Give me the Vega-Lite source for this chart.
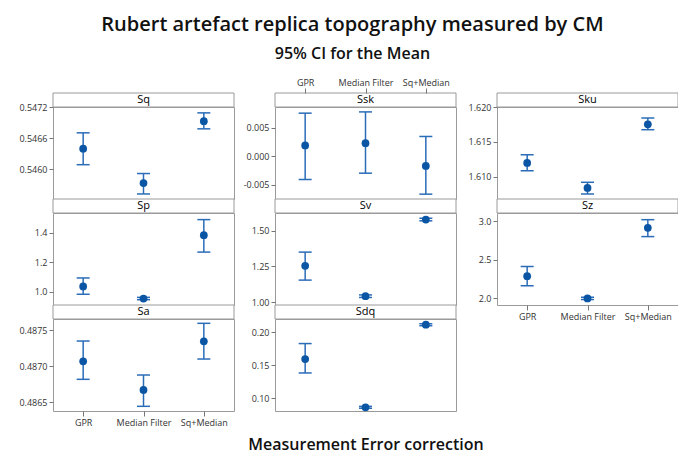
{
  "$schema": "https://vega.github.io/schema/vega-lite/v6.json",
  "padding": {"left": 18, "top": 14, "right": 0, "bottom": 0},
  "background": "white",
  "title": {
    "text": "Rubert artefact replica topography measured by CM",
    "subtitle": "95% CI for the Mean",
    "anchor": "middle",
    "dx": 4,
    "font": "Open Sans",
    "fontSize": 20,
    "fontWeight": 600,
    "color": "#111111",
    "subtitleFont": "Open Sans",
    "subtitleFontSize": 16,
    "subtitleFontWeight": 600,
    "subtitleColor": "#111111",
    "subtitlePadding": 11,
    "offset": 16
  },
  "datasets": {
    "ci": [
      {"param": "Sq", "corr": "GPR", "mean": 0.546397, "lo": 0.54609, "hi": 0.546703},
      {"param": "Sq", "corr": "Median Filter", "mean": 0.545737, "lo": 0.545527, "hi": 0.54592},
      {"param": "Sq", "corr": "Sq+Median", "mean": 0.546926, "lo": 0.54678, "hi": 0.547087},
      {"param": "Sp", "corr": "GPR", "mean": 1.035, "lo": 0.982, "hi": 1.093},
      {"param": "Sp", "corr": "Median Filter", "mean": 0.953, "lo": 0.945, "hi": 0.961},
      {"param": "Sp", "corr": "Sq+Median", "mean": 1.384, "lo": 1.269, "hi": 1.49},
      {"param": "Sa", "corr": "GPR", "mean": 0.487065, "lo": 0.486815, "hi": 0.487347},
      {"param": "Sa", "corr": "Median Filter", "mean": 0.486667, "lo": 0.48644, "hi": 0.486875},
      {"param": "Sa", "corr": "Sq+Median", "mean": 0.487343, "lo": 0.487097, "hi": 0.487593},
      {"param": "Ssk", "corr": "GPR", "mean": 0.00193, "lo": -0.00404, "hi": 0.0076},
      {"param": "Ssk", "corr": "Median Filter", "mean": 0.00233, "lo": -0.00293, "hi": 0.00782},
      {"param": "Ssk", "corr": "Sq+Median", "mean": -0.00165, "lo": -0.00661, "hi": 0.00351},
      {"param": "Sv", "corr": "GPR", "mean": 1.255, "lo": 1.154, "hi": 1.351},
      {"param": "Sv", "corr": "Median Filter", "mean": 1.041, "lo": 1.032, "hi": 1.05},
      {"param": "Sv", "corr": "Sq+Median", "mean": 1.58, "lo": 1.571, "hi": 1.589},
      {"param": "Sdq", "corr": "GPR", "mean": 0.1592, "lo": 0.1382, "hi": 0.1827},
      {"param": "Sdq", "corr": "Median Filter", "mean": 0.0862, "lo": 0.0848, "hi": 0.0876},
      {"param": "Sdq", "corr": "Sq+Median", "mean": 0.2112, "lo": 0.2097, "hi": 0.2127},
      {"param": "Sku", "corr": "GPR", "mean": 1.61197, "lo": 1.61086, "hi": 1.61313},
      {"param": "Sku", "corr": "Median Filter", "mean": 1.60837, "lo": 1.60751, "hi": 1.60919},
      {"param": "Sku", "corr": "Sq+Median", "mean": 1.61751, "lo": 1.61674, "hi": 1.61842},
      {"param": "Sz", "corr": "GPR", "mean": 2.285, "lo": 2.159, "hi": 2.41},
      {"param": "Sz", "corr": "Median Filter", "mean": 1.996, "lo": 1.981, "hi": 2.011},
      {"param": "Sz", "corr": "Sq+Median", "mean": 2.914, "lo": 2.8, "hi": 3.02}
    ],
    "panels": [
      {"param": "Sq"}, {"param": "Sp"}, {"param": "Sa"},
      {"param": "Ssk"}, {"param": "Sv"}, {"param": "Sdq"},
      {"param": "Sku"}, {"param": "Sz"}
    ]
  },
  "columns": 3,
  "spacing": {"row": 0, "column": 41},
  "bounds": "flush",
  "align": "each",
  "concat": [
    {"width": 181, "height": 14, "data": {"name": "panels"}, "transform": [{"filter": "datum.param == 'Sq'"}], "layer": [{"mark": {"type": "rect", "fill": "white", "stroke": "#9a9a9a", "strokeWidth": 1}, "encoding": {}}, {"mark": {"type": "text", "font": "Open Sans", "fontSize": 11, "color": "#000000"}, "encoding": {"text": {"field": "param", "type": "nominal"}}}]},
    {"width": 181, "height": 14, "data": {"name": "panels"}, "transform": [{"filter": "datum.param == 'Ssk'"}], "layer": [{"mark": {"type": "rect", "fill": "white", "stroke": "#9a9a9a", "strokeWidth": 1}, "encoding": {}}, {"mark": {"type": "text", "font": "Open Sans", "fontSize": 11, "color": "#000000"}, "encoding": {"text": {"field": "param", "type": "nominal"}}}]},
    {"width": 181, "height": 14, "data": {"name": "panels"}, "transform": [{"filter": "datum.param == 'Sku'"}], "layer": [{"mark": {"type": "rect", "fill": "white", "stroke": "#9a9a9a", "strokeWidth": 1}, "encoding": {}}, {"mark": {"type": "text", "font": "Open Sans", "fontSize": 11, "color": "#000000"}, "encoding": {"text": {"field": "param", "type": "nominal"}}}]},
    {
      "width": 181, "height": 92, "data": {"name": "ci"}, "transform": [{"filter": "datum.param == 'Sq'"}],
      "encoding": {"x": {"field": "corr", "type": "nominal", "scale": {"type": "point", "domain": ["GPR", "Median Filter", "Sq+Median"], "padding": 0.5}, "axis": null}},
      "layer": [
        {"mark": {"type": "rule", "color": "#2b6cb8", "strokeWidth": 1.5}, "encoding": {"y": {"field": "lo", "type": "quantitative", "scale": {"domain": [0.54543, 0.5472], "nice": false, "zero": false}, "axis": {"values": [0.546, 0.5466, 0.5472], "format": ".4f", "title": null}}, "y2": {"field": "hi"}}},
        {"mark": {"type": "tick", "color": "#2b6cb8", "size": 13, "thickness": 1.5, "opacity": 1}, "encoding": {"y": {"field": "lo", "type": "quantitative", "title": null}}},
        {"mark": {"type": "tick", "color": "#2b6cb8", "size": 13, "thickness": 1.5, "opacity": 1}, "encoding": {"y": {"field": "hi", "type": "quantitative", "title": null}}},
        {"mark": {"type": "point", "filled": true, "size": 60, "color": "#0b56a4", "opacity": 1}, "encoding": {"y": {"field": "mean", "type": "quantitative", "title": null}}}
      ]
    },
    {
      "width": 181, "height": 92, "data": {"name": "ci"}, "transform": [{"filter": "datum.param == 'Ssk'"}],
      "encoding": {"x": {"field": "corr", "type": "nominal", "scale": {"type": "point", "domain": ["GPR", "Median Filter", "Sq+Median"], "padding": 0.5}, "axis": {"orient": "top", "offset": 14, "title": null, "labelAngle": 0, "tickSize": 5, "labelPadding": 1}}},
      "layer": [
        {"mark": {"type": "rule", "color": "#2b6cb8", "strokeWidth": 1.5}, "encoding": {"y": {"field": "lo", "type": "quantitative", "scale": {"domain": [-0.00746, 0.00868], "nice": false, "zero": false}, "axis": {"values": [-0.005, 0, 0.005], "format": ".3f", "labelExpr": "replace(datum.label, '\u2212', '-')", "title": null}}, "y2": {"field": "hi"}}},
        {"mark": {"type": "tick", "color": "#2b6cb8", "size": 13, "thickness": 1.5, "opacity": 1}, "encoding": {"y": {"field": "lo", "type": "quantitative", "title": null}}},
        {"mark": {"type": "tick", "color": "#2b6cb8", "size": 13, "thickness": 1.5, "opacity": 1}, "encoding": {"y": {"field": "hi", "type": "quantitative", "title": null}}},
        {"mark": {"type": "point", "filled": true, "size": 60, "color": "#0b56a4", "opacity": 1}, "encoding": {"y": {"field": "mean", "type": "quantitative", "title": null}}}
      ]
    },
    {
      "width": 181, "height": 92, "data": {"name": "ci"}, "transform": [{"filter": "datum.param == 'Sku'"}],
      "encoding": {"x": {"field": "corr", "type": "nominal", "scale": {"type": "point", "domain": ["GPR", "Median Filter", "Sq+Median"], "padding": 0.5}, "axis": null}},
      "layer": [
        {"mark": {"type": "rule", "color": "#2b6cb8", "strokeWidth": 1.5}, "encoding": {"y": {"field": "lo", "type": "quantitative", "scale": {"domain": [1.60679, 1.62], "nice": false, "zero": false}, "axis": {"values": [1.61, 1.615, 1.62], "format": ".3f", "title": null}}, "y2": {"field": "hi"}}},
        {"mark": {"type": "tick", "color": "#2b6cb8", "size": 13, "thickness": 1.5, "opacity": 1}, "encoding": {"y": {"field": "lo", "type": "quantitative", "title": null}}},
        {"mark": {"type": "tick", "color": "#2b6cb8", "size": 13, "thickness": 1.5, "opacity": 1}, "encoding": {"y": {"field": "hi", "type": "quantitative", "title": null}}},
        {"mark": {"type": "point", "filled": true, "size": 60, "color": "#0b56a4", "opacity": 1}, "encoding": {"y": {"field": "mean", "type": "quantitative", "title": null}}}
      ]
    },
    {"width": 181, "height": 14, "data": {"name": "panels"}, "transform": [{"filter": "datum.param == 'Sp'"}], "layer": [{"mark": {"type": "rect", "fill": "white", "stroke": "#9a9a9a", "strokeWidth": 1}, "encoding": {}}, {"mark": {"type": "text", "font": "Open Sans", "fontSize": 11, "color": "#000000"}, "encoding": {"text": {"field": "param", "type": "nominal"}}}]},
    {"width": 181, "height": 14, "data": {"name": "panels"}, "transform": [{"filter": "datum.param == 'Sv'"}], "layer": [{"mark": {"type": "rect", "fill": "white", "stroke": "#9a9a9a", "strokeWidth": 1}, "encoding": {}}, {"mark": {"type": "text", "font": "Open Sans", "fontSize": 11, "color": "#000000"}, "encoding": {"text": {"field": "param", "type": "nominal"}}}]},
    {"width": 181, "height": 14, "data": {"name": "panels"}, "transform": [{"filter": "datum.param == 'Sz'"}], "layer": [{"mark": {"type": "rect", "fill": "white", "stroke": "#9a9a9a", "strokeWidth": 1}, "encoding": {}}, {"mark": {"type": "text", "font": "Open Sans", "fontSize": 11, "color": "#000000"}, "encoding": {"text": {"field": "param", "type": "nominal"}}}]},
    {
      "width": 181, "height": 92, "data": {"name": "ci"}, "transform": [{"filter": "datum.param == 'Sp'"}],
      "encoding": {"x": {"field": "corr", "type": "nominal", "scale": {"type": "point", "domain": ["GPR", "Median Filter", "Sq+Median"], "padding": 0.5}, "axis": null}},
      "layer": [
        {"mark": {"type": "rule", "color": "#2b6cb8", "strokeWidth": 1.5}, "encoding": {"y": {"field": "lo", "type": "quantitative", "scale": {"domain": [0.909, 1.535], "nice": false, "zero": false}, "axis": {"values": [1.0, 1.2, 1.4], "format": ".1f", "title": null}}, "y2": {"field": "hi"}}},
        {"mark": {"type": "tick", "color": "#2b6cb8", "size": 13, "thickness": 1.5, "opacity": 1}, "encoding": {"y": {"field": "lo", "type": "quantitative", "title": null}}},
        {"mark": {"type": "tick", "color": "#2b6cb8", "size": 13, "thickness": 1.5, "opacity": 1}, "encoding": {"y": {"field": "hi", "type": "quantitative", "title": null}}},
        {"mark": {"type": "point", "filled": true, "size": 60, "color": "#0b56a4", "opacity": 1}, "encoding": {"y": {"field": "mean", "type": "quantitative", "title": null}}}
      ]
    },
    {
      "width": 181, "height": 92, "data": {"name": "ci"}, "transform": [{"filter": "datum.param == 'Sv'"}],
      "encoding": {"x": {"field": "corr", "type": "nominal", "scale": {"type": "point", "domain": ["GPR", "Median Filter", "Sq+Median"], "padding": 0.5}, "axis": null}},
      "layer": [
        {"mark": {"type": "rule", "color": "#2b6cb8", "strokeWidth": 1.5}, "encoding": {"y": {"field": "lo", "type": "quantitative", "scale": {"domain": [0.979, 1.626], "nice": false, "zero": false}, "axis": {"values": [1.0, 1.25, 1.5], "format": ".2f", "title": null}}, "y2": {"field": "hi"}}},
        {"mark": {"type": "tick", "color": "#2b6cb8", "size": 13, "thickness": 1.5, "opacity": 1}, "encoding": {"y": {"field": "lo", "type": "quantitative", "title": null}}},
        {"mark": {"type": "tick", "color": "#2b6cb8", "size": 13, "thickness": 1.5, "opacity": 1}, "encoding": {"y": {"field": "hi", "type": "quantitative", "title": null}}},
        {"mark": {"type": "point", "filled": true, "size": 60, "color": "#0b56a4", "opacity": 1}, "encoding": {"y": {"field": "mean", "type": "quantitative", "title": null}}}
      ]
    },
    {
      "width": 181, "height": 92, "data": {"name": "ci"}, "transform": [{"filter": "datum.param == 'Sz'"}],
      "encoding": {"x": {"field": "corr", "type": "nominal", "scale": {"type": "point", "domain": ["GPR", "Median Filter", "Sq+Median"], "padding": 0.5}, "axis": {"orient": "bottom", "title": null, "labelAngle": 0, "tickSize": 5, "labelPadding": 2}}},
      "layer": [
        {"mark": {"type": "rule", "color": "#2b6cb8", "strokeWidth": 1.5}, "encoding": {"y": {"field": "lo", "type": "quantitative", "scale": {"domain": [1.91, 3.107], "nice": false, "zero": false}, "axis": {"values": [2.0, 2.5, 3.0], "format": ".1f", "title": null}}, "y2": {"field": "hi"}}},
        {"mark": {"type": "tick", "color": "#2b6cb8", "size": 13, "thickness": 1.5, "opacity": 1}, "encoding": {"y": {"field": "lo", "type": "quantitative", "title": null}}},
        {"mark": {"type": "tick", "color": "#2b6cb8", "size": 13, "thickness": 1.5, "opacity": 1}, "encoding": {"y": {"field": "hi", "type": "quantitative", "title": null}}},
        {"mark": {"type": "point", "filled": true, "size": 60, "color": "#0b56a4", "opacity": 1}, "encoding": {"y": {"field": "mean", "type": "quantitative", "title": null}}}
      ]
    },
    {"width": 181, "height": 14, "data": {"name": "panels"}, "transform": [{"filter": "datum.param == 'Sa'"}], "layer": [{"mark": {"type": "rect", "fill": "white", "stroke": "#9a9a9a", "strokeWidth": 1}, "encoding": {}}, {"mark": {"type": "text", "font": "Open Sans", "fontSize": 11, "color": "#000000"}, "encoding": {"text": {"field": "param", "type": "nominal"}}}]},
    {"width": 181, "height": 14, "data": {"name": "panels"}, "transform": [{"filter": "datum.param == 'Sdq'"}], "layer": [{"mark": {"type": "rect", "fill": "white", "stroke": "#9a9a9a", "strokeWidth": 1}, "encoding": {}}, {"mark": {"type": "text", "font": "Open Sans", "fontSize": 11, "color": "#000000"}, "encoding": {"text": {"field": "param", "type": "nominal"}}}]},
    {"width": 181, "height": 14, "view": {"stroke": null}, "data": {"name": "panels"}, "transform": [{"filter": "datum.param == 'none'"}], "mark": {"type": "text"}, "encoding": {"text": {"field": "param", "type": "nominal"}}},
    {
      "width": 181, "height": 92, "data": {"name": "ci"}, "transform": [{"filter": "datum.param == 'Sa'"}],
      "encoding": {"x": {"field": "corr", "type": "nominal", "scale": {"type": "point", "domain": ["GPR", "Median Filter", "Sq+Median"], "padding": 0.5}, "axis": {"orient": "bottom", "title": null, "labelAngle": 0, "tickSize": 5, "labelPadding": 2}}},
      "layer": [
        {"mark": {"type": "rule", "color": "#2b6cb8", "strokeWidth": 1.5}, "encoding": {"y": {"field": "lo", "type": "quantitative", "scale": {"domain": [0.486375, 0.487653], "nice": false, "zero": false}, "axis": {"values": [0.4865, 0.487, 0.4875], "format": ".4f", "title": null}}, "y2": {"field": "hi"}}},
        {"mark": {"type": "tick", "color": "#2b6cb8", "size": 13, "thickness": 1.5, "opacity": 1}, "encoding": {"y": {"field": "lo", "type": "quantitative", "title": null}}},
        {"mark": {"type": "tick", "color": "#2b6cb8", "size": 13, "thickness": 1.5, "opacity": 1}, "encoding": {"y": {"field": "hi", "type": "quantitative", "title": null}}},
        {"mark": {"type": "point", "filled": true, "size": 60, "color": "#0b56a4", "opacity": 1}, "encoding": {"y": {"field": "mean", "type": "quantitative", "title": null}}}
      ]
    },
    {
      "width": 181, "height": 92, "data": {"name": "ci"}, "transform": [{"filter": "datum.param == 'Sdq'"}],
      "encoding": {"x": {"field": "corr", "type": "nominal", "scale": {"type": "point", "domain": ["GPR", "Median Filter", "Sq+Median"], "padding": 0.5}, "axis": {"orient": "bottom", "labels": false, "ticks": false, "domain": false, "title": "Measurement Error correction", "titleFont": "Open Sans", "titleFontSize": 16, "titleFontWeight": 600, "titleColor": "#111111", "titlePadding": 25}}},
      "layer": [
        {"mark": {"type": "rule", "color": "#2b6cb8", "strokeWidth": 1.5}, "encoding": {"y": {"field": "lo", "type": "quantitative", "scale": {"domain": [0.0806, 0.2199], "nice": false, "zero": false}, "axis": {"values": [0.1, 0.15, 0.2], "format": ".2f", "title": null}}, "y2": {"field": "hi"}}},
        {"mark": {"type": "tick", "color": "#2b6cb8", "size": 13, "thickness": 1.5, "opacity": 1}, "encoding": {"y": {"field": "lo", "type": "quantitative", "title": null}}},
        {"mark": {"type": "tick", "color": "#2b6cb8", "size": 13, "thickness": 1.5, "opacity": 1}, "encoding": {"y": {"field": "hi", "type": "quantitative", "title": null}}},
        {"mark": {"type": "point", "filled": true, "size": 60, "color": "#0b56a4", "opacity": 1}, "encoding": {"y": {"field": "mean", "type": "quantitative", "title": null}}}
      ]
    }
  ],
  "config": {
    "view": {"stroke": "#9a9a9a", "strokeWidth": 1},
    "axis": {
      "labelFont": "Open Sans",
      "labelFontSize": 9,
      "labelColor": "#333333",
      "tickColor": "#777777",
      "tickSize": 4,
      "labelPadding": 2,
      "domain": false,
      "grid": false
    }
  }
}
